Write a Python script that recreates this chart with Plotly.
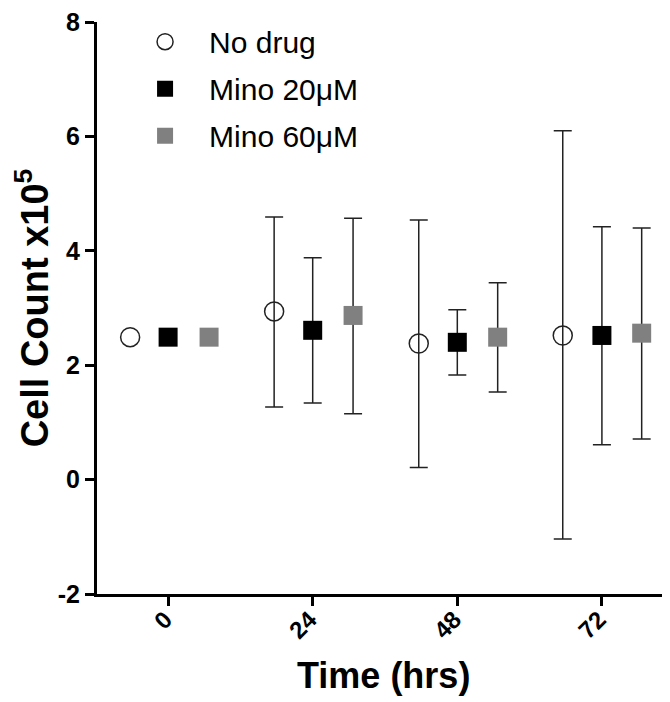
import plotly.graph_objects as go

series_names = ["No drug", "Mino 20\u03bcM", "Mino 60\u03bcM"]
x_ticks = [0, 24, 48, 72]
x_tick_labels = ["0", "24", "48", "72"]
y_ticks = [-2, 0, 2, 4, 6, 8]
y_tick_labels = ["-2", "0", "2", "4", "6", "8"]

# x positions (hrs, with grouping offsets as drawn)
x_nodrug = [-6.3, 17.6, 41.6, 65.5]
x_mino20 = [0.0, 24.0, 48.0, 72.0]
x_mino60 = [6.8, 30.7, 54.7, 78.6]

y_nodrug = [2.49, 2.94, 2.38, 2.52]
hi_nodrug = [2.49, 4.59, 4.54, 6.10]
lo_nodrug = [2.49, 1.27, 0.21, -1.04]

y_mino20 = [2.49, 2.61, 2.40, 2.52]
hi_mino20 = [2.49, 3.88, 2.97, 4.42]
lo_mino20 = [2.49, 1.34, 1.83, 0.61]

y_mino60 = [2.49, 2.87, 2.49, 2.56]
hi_mino60 = [2.49, 4.57, 3.44, 4.40]
lo_mino60 = [2.49, 1.15, 1.53, 0.71]

FONT = "Arial, Liberation Sans, sans-serif"

fig = go.Figure()

def add_series(name, group, xs, ys, hi, lo, marker):
    # points without spread (no error bars drawn)
    idx0 = [i for i in range(len(ys)) if hi[i] == ys[i] and lo[i] == ys[i]]
    idx1 = [i for i in range(len(ys)) if i not in idx0]
    fig.add_trace(go.Scatter(
        x=[xs[i] for i in idx1], y=[ys[i] for i in idx1], mode="markers",
        name=name, legendgroup=group, marker=marker,
        error_y=dict(type="data", symmetric=False,
                     array=[hi[i] - ys[i] for i in idx1],
                     arrayminus=[ys[i] - lo[i] for i in idx1],
                     color="#222222", thickness=1.5, width=9)))
    if idx0:
        fig.add_trace(go.Scatter(
            x=[xs[i] for i in idx0], y=[ys[i] for i in idx0], mode="markers",
            name=name, legendgroup=group, showlegend=False, marker=marker))

add_series(series_names[0], "a", x_nodrug, y_nodrug, hi_nodrug, lo_nodrug,
           dict(symbol="circle-open", size=19, color="#222222", line=dict(width=1.5)))
add_series(series_names[1], "b", x_mino20, y_mino20, hi_mino20, lo_mino20,
           dict(symbol="square", size=19, color="#000000", line=dict(width=0)))
add_series(series_names[2], "c", x_mino60, y_mino60, hi_mino60, lo_mino60,
           dict(symbol="square", size=19, color="#808080", line=dict(width=0)))

fig.update_layout(
    width=662, height=694,
    margin=dict(l=89, r=0, t=11, b=108),
    paper_bgcolor="white", plot_bgcolor="white",
    font=dict(family=FONT, color="black"),
    showlegend=True,
    legend=dict(x=0.042, y=1.011, xanchor="left", yanchor="top",
                font=dict(size=30, family=FONT, color="black"),
                itemsizing="trace", itemwidth=78, traceorder="grouped",
                tracegroupgap=5, bgcolor="rgba(0,0,0,0)"),
    xaxis=dict(range=[-11.8, 83.3], tickvals=x_ticks, ticktext=x_tick_labels,
               tickangle=-45, showline=True, linewidth=3, linecolor="black",
               ticks="outside", ticklen=9, tickwidth=3, tickcolor="black",
               showgrid=False, zeroline=False, ticklabelstandoff=-10,
               ticklabelshift=-3,
               tickfont=dict(size=24, family=FONT, weight="bold")),
    yaxis=dict(range=[-2, 8], tickvals=y_ticks, ticktext=y_tick_labels,
               showline=True, linewidth=3, linecolor="black",
               ticks="outside", ticklen=9, tickwidth=3, tickcolor="black",
               showgrid=False, zeroline=False, ticklabeloverflow="allow",
               tickfont=dict(size=25, family=FONT, weight="bold"),
               title=dict(text="Cell Count x10<sup>5</sup>", standoff=14,
                          font=dict(size=38, family=FONT, weight="bold"))),
    annotations=[dict(text="Time (hrs)", xref="paper", yref="paper",
                      x=0.5, y=-0.143, xanchor="center", yanchor="middle",
                      showarrow=False,
                      font=dict(size=36, family=FONT, weight="bold", color="black"))],
)

fig.write_html("out.html")
